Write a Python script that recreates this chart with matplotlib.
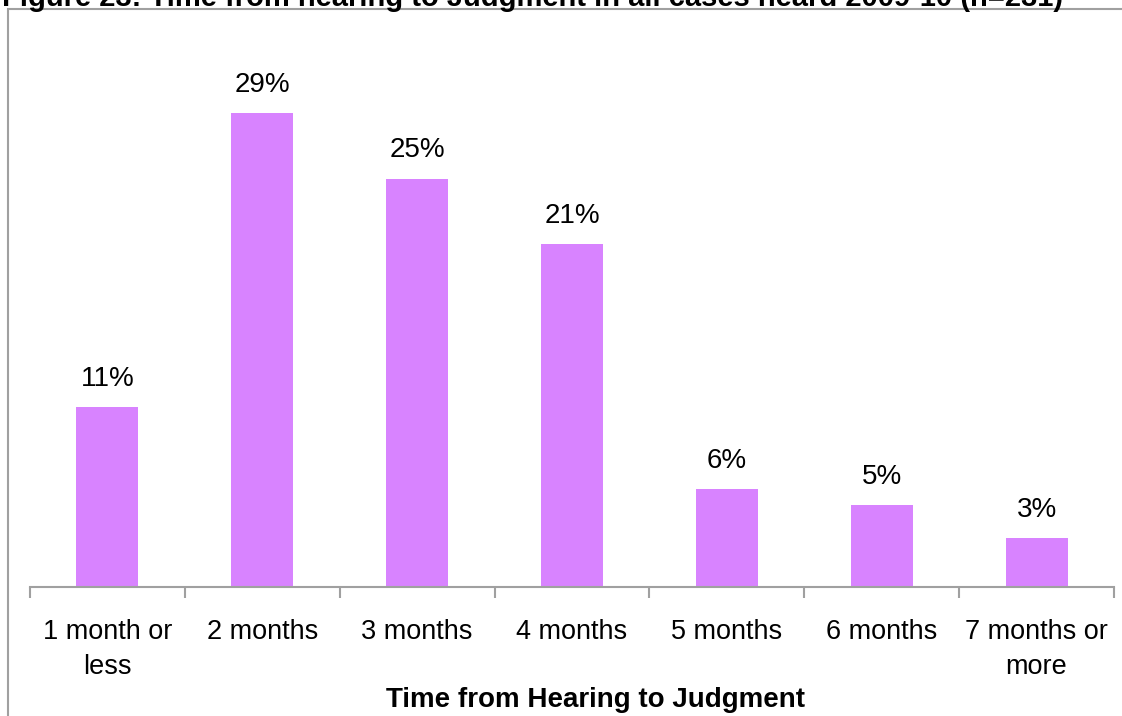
import matplotlib
matplotlib.use("Agg")
from matplotlib import pyplot as plt
from matplotlib.patches import Rectangle

# data
categories = ["1 month or\nless", "2 months", "3 months", "4 months",
              "5 months", "6 months", "7 months or\nmore"]
shares = [11, 29, 25, 21, 6, 5, 3]
labels = ["11%", "29%", "25%", "21%", "6%", "5%", "3%"]

title = "Figure 23: Time from hearing to Judgment in all cases heard 2009-10 (n=231)"
xlabel = "Time from Hearing to Judgment"

plt.rcParams["font.family"] = ["Liberation Sans", "DejaVu Sans"]

W, H = 1122, 716
fig = plt.figure(figsize=(W / 100, H / 100), dpi=100)

# axes placed in pixel terms: baseline at y=587, plot from x=30 to x=1114
left, right = 30, 1114
bottom, top = 587, 20
ax = fig.add_axes([left / W, (H - bottom) / H, (right - left) / W, (bottom - top) / H])

bar_color = "#D883FF"
x = range(len(categories))
ax.bar(x, shares, width=0.4, color=bar_color)
ax.set_xlim(-0.5, len(categories) - 0.5)
ax.set_ylim(0, (bottom - top) / 16.34)

for i, (v, lab) in enumerate(zip(shares, labels)):
    ax.annotate(lab, (i, v), xytext=(0, 11), textcoords="offset points",
                ha="center", va="bottom", fontsize=20)

for s in ["top", "right", "left"]:
    ax.spines[s].set_visible(False)
ax.spines["bottom"].set_color("#A0A0A0")
ax.spines["bottom"].set_linewidth(1.5)
ax.set_yticks([])

# ticks sit on category boundaries, labels at the centres
ax.set_xticks([i - 0.5 for i in range(len(categories) + 1)])
ax.set_xticklabels([])
ax.tick_params(axis="x", which="major", length=8, width=1.5, color="#A0A0A0", direction="out")
ax.set_xticks(list(x), minor=True)
ax.set_xticklabels(categories, minor=True, fontsize=19.5, linespacing=1.45)
ax.tick_params(axis="x", which="minor", length=0, pad=23)

fig.text(596 / W, 1 - 700 / H, xlabel, ha="center", va="center",
         fontsize=20, fontweight="bold")

# title cut off at the top edge, as in the source
fig.text(2 / W, 1 - 6 / H, title, ha="left", va="baseline",
         fontsize=21, fontweight="bold")

# chart frame, only left and top edges visible
fig.patches.append(Rectangle((8 / W, -0.1), 1.2, 1 - 9 / H + 0.1, transform=fig.transFigure,
                             fill=False, edgecolor="#A0A0A0", linewidth=1.5))

fig.savefig("out.png", dpi=100)
